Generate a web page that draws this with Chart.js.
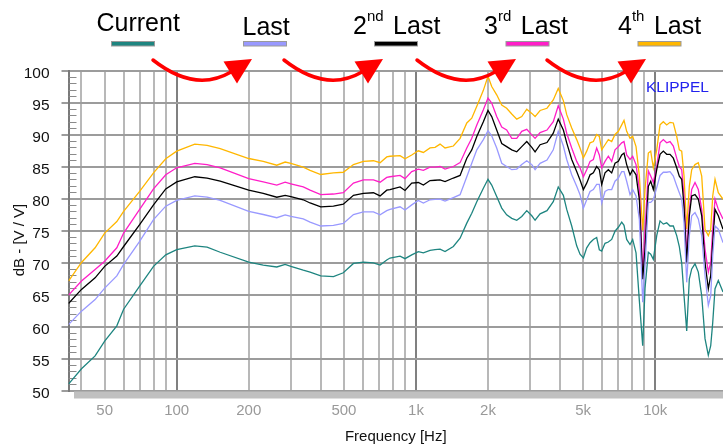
<!DOCTYPE html>
<html><head><meta charset="utf-8">
<script src="https://cdn.jsdelivr.net/npm/chart.js@4.4.1/dist/chart.umd.min.js"></script>
<style>html,body{margin:0;padding:0;background:#fff;overflow:hidden}canvas{display:block}</style>
</head><body>
<canvas id="c" width="723" height="446"></canvas>
<script>
// ---- data ----
const freqHz = [
  35.3, 40, 45.6, 50, 56.2, 60, 70, 80, 90, 100, 119, 134, 152, 200, 230, 262, 284, 300, 338, 361, 400, 452, 497, 548, 603, 664, 708, 755, 779, 858, 900,
  960, 1023, 1074, 1145, 1202, 1261, 1323, 1433, 1529, 1631, 1711, 1796, 1913, 2000, 2073, 2175, 2283, 2394, 2514, 2638, 2768, 2905, 3049, 3147, 3302, 3529, 3749, 3933,
  4131, 4267, 4477, 4697, 4850, 5009, 5172, 5341, 5513, 5692, 5840, 5974, 6169, 6369, 6578, 6792, 7014, 7243, 7406, 7598, 7847, 8050, 8314, 8585,
  8865, 9066, 9359, 9577, 9820, 10146, 10474, 10812, 11170, 11531, 11904, 12298, 12609, 12904, 13196, 13541, 13884, 14207, 14666, 15140, 15644, 16149, 16670, 17059, 17392, 17781, 18353, 19200
];
const current = [
  51.0, 53.4, 55.4, 57.7, 60.1, 62.7, 66.3, 69.4, 71.2, 72.0, 72.6, 72.4, 71.6, 70.05, 69.6, 69.3, 69.7, 69.4, 68.8, 68.5, 67.9, 67.8, 68.4, 69.85, 70.05, 69.95, 69.6, 70.4, 70.7, 71.0, 70.6,
  71.2, 71.7, 71.5, 71.9, 72.0, 72.1, 71.7, 72.5, 73.8, 76.15, 77.7, 79.5, 81.6, 83.0, 82.1, 80.3, 78.5, 77.45, 76.9, 76.6, 77.2, 78.1, 77.3, 76.6, 77.6, 78.1, 79.5, 81.8,
  80.5, 78.3, 75.7, 72.6, 71.3, 70.7, 72.3, 73.1, 73.6, 73.9, 72.0, 71.8, 73.0, 73.2, 73.6, 74.9, 75.5, 76.3, 75.8, 73.6, 72.8, 73.6, 71.5, 64.0,
  57.0, 66.0, 71.6, 71.3, 70.5, 74.2, 76.5, 76.0, 76.2, 75.7, 75.7, 74.2, 72.5, 69.9, 64.8, 59.3, 67.4, 69.0, 69.8, 68.5, 64.8, 58.1, 55.5, 57.0, 60.6, 65.9, 67.2, 65.4
];
const last = [
  60.3, 62.4, 64.2, 66.0, 67.9, 69.7, 73.3, 76.7, 78.8, 79.7, 80.4, 80.2, 79.7, 78.0, 77.5, 77.0, 77.45, 77.2, 76.8, 76.3, 75.7, 75.8, 76.1, 77.5, 77.9, 77.9, 77.45, 78.1, 78.3, 78.7, 78.2,
  79.0, 79.7, 79.3, 79.8, 79.85, 79.9, 79.6, 80.15, 80.6, 83.4, 85.5, 87.6, 89.2, 90.6, 89.8, 87.9, 85.5, 85.0, 84.5, 84.6, 85.3, 85.9, 85.3, 84.5, 85.5, 86.0, 87.6, 90.5,
  88.2, 86.1, 83.7, 81.9, 80.6, 78.5, 79.8, 81.1, 81.4, 82.2, 82.2, 79.3, 81.1, 81.4, 81.4, 82.7, 83.2, 84.2, 84.2, 82.7, 80.6, 81.4, 80.4, 76.7,
  63.8, 69.5, 79.4, 79.4, 79.8, 81.7, 83.6, 84.1, 84.1, 84.2, 83.5, 82.0, 80.9, 79.9, 76.2, 66.9, 74.2, 77.3, 77.8, 76.8, 74.2, 68.0, 63.3, 64.8, 71.1, 75.7, 75.2, 73.1
];
const last2 = [
  63.6, 65.8, 67.6, 69.4, 71.0, 72.5, 75.9, 79.0, 81.5, 82.6, 83.4, 83.2, 82.7, 81.3, 80.8, 80.2, 80.5, 80.3, 79.8, 79.3, 78.7, 78.8, 79.1, 80.5, 80.8, 80.9, 80.4, 81.3, 81.4, 81.8, 81.25,
  82.4, 82.5, 82.1, 82.8, 82.85, 82.9, 82.65, 83.2, 83.6, 86.3, 87.6, 89.7, 92.0, 93.75, 92.8, 90.7, 88.6, 88.1, 87.6, 87.3, 88.1, 88.9, 88.0, 87.3, 88.4, 88.75, 90.2, 92.4,
  90.7, 88.7, 86.1, 84.2, 82.9, 81.4, 82.4, 83.7, 84.0, 85.0, 84.5, 82.2, 84.0, 84.5, 84.0, 85.5, 85.8, 86.8, 87.1, 85.3, 83.7, 84.5, 83.7, 79.8,
  67.4, 72.1, 81.9, 82.7, 81.4, 84.5, 86.9, 87.4, 86.9, 86.9, 86.3, 84.8, 83.5, 83.0, 78.8, 70.0, 77.3, 80.4, 80.6, 79.9, 77.3, 70.0, 65.9, 68.0, 73.1, 78.3, 77.3, 75.2
];
const last3 = [
  64.9, 67.1, 68.9, 70.2, 72.3, 74.6, 78.3, 81.5, 83.7, 84.8, 85.5, 85.3, 84.8, 83.1, 82.6, 82.1, 82.55, 82.3, 81.8, 81.3, 80.6, 80.7, 80.9, 82.4, 82.9, 82.9, 82.55, 83.3, 83.4, 83.6, 83.1,
  84.2, 84.6, 84.4, 84.9, 84.9, 85.0, 84.6, 85.0, 85.6, 87.9, 89.4, 91.5, 93.85, 95.7, 94.9, 92.8, 91.15, 90.7, 89.4, 89.4, 90.5, 90.8, 89.95, 89.4, 90.3, 90.7, 92.0, 94.5,
  92.4, 90.2, 87.9, 85.8, 84.8, 83.4, 84.5, 85.8, 86.1, 87.9, 86.8, 84.8, 85.8, 86.6, 85.8, 87.6, 88.1, 88.7, 88.9, 86.8, 86.1, 86.6, 85.3, 81.4,
  68.0, 75.2, 84.3, 83.5, 82.5, 85.0, 88.7, 89.2, 88.7, 88.9, 88.2, 86.3, 85.0, 84.5, 80.4, 71.1, 78.3, 81.4, 82.5, 81.4, 78.3, 72.1, 68.5, 70.0, 75.2, 79.9, 78.3, 76.8
];
const last4 = [
  67.1, 70.0, 72.3, 74.6, 76.4, 78.0, 81.1, 84.0, 86.2, 87.4, 88.5, 88.3, 87.8, 86.25, 85.8, 85.2, 85.7, 85.5, 84.9, 84.4, 83.75, 84.0, 84.1, 85.3, 85.8, 85.9, 85.6, 86.5, 86.6, 86.7, 86.2,
  86.8, 87.45, 87.2, 87.9, 88.0, 88.5, 87.9, 88.2, 89.4, 91.8, 92.55, 94.4, 96.9, 99.1, 97.5, 96.2, 94.6, 94.1, 93.2, 92.4, 92.8, 93.95, 93.3, 92.8, 93.75, 94.1, 95.4, 97.2,
  95.3, 93.1, 91.0, 89.2, 87.9, 86.35, 87.4, 88.7, 88.9, 90.0, 89.7, 87.6, 88.4, 89.2, 88.9, 90.0, 90.5, 91.5, 92.2, 90.5, 89.4, 89.7, 88.1, 83.5,
  75.0, 81.4, 87.1, 87.4, 84.8, 87.6, 91.5, 92.0, 91.5, 91.9, 91.8, 89.7, 87.6, 87.4, 83.5, 75.2, 81.9, 84.5, 85.3, 85.6, 83.5, 75.2, 74.2, 75.2, 80.4, 83.0, 80.9, 79.9
];
const seriesNames = ['Current', 'Last', '2nd Last', '3rd Last', '4th Last'];
const seriesColors = ['#1e8580', '#9999ff', '#000000', '#ff1ec8', '#ffb700'];
const yTickValues = [50, 55, 60, 65, 70, 75, 80, 85, 90, 95, 100];
const xGridValues = [40, 50, 60, 70, 80, 90, 100, 200, 300, 400, 500, 600, 700, 800, 900,
  1000, 2000, 3000, 4000, 5000, 6000, 7000, 8000, 9000, 10000];
const xTickLabels = {50: '50', 100: '100', 200: '200', 500: '500', 1000: '1k', 2000: '2k', 5000: '5k', 10000: '10k'};
const legendParts = [
  {num: 'Current', sup: '', rest: ''},
  {num: 'Last', sup: '', rest: ''},
  {num: '2', sup: 'nd', rest: 'Last'},
  {num: '3', sup: 'rd', rest: 'Last'},
  {num: '4', sup: 'th', rest: 'Last'}
];

// ---- layout / style ----
const FONT = '"Liberation Sans", Arial, sans-serif';
const legendTextX = [96.5, 242.5, 353, 484, 618];
const legendTextY = [31, 35, 34, 34, 34];
const legendBarX = [111.5, 243.5, 374.5, 506, 638];
const arrowShift = [0, 131, 264, 394];

const decor = {
  id: 'decor',
  beforeDraw(chart) {
    const ctx = chart.ctx;
    ctx.save();
    ctx.fillStyle = '#fff';
    ctx.fillRect(0, 0, chart.width, chart.height);
    ctx.restore();
  },
  beforeDatasetsDraw(chart) {
    const ctx = chart.ctx, y = chart.scales.y, a = chart.chartArea;
    ctx.save();
    ctx.strokeStyle = '#8a8a8a';
    ctx.lineWidth = 1;
    for (let v = 51; v < 100; v++) {
      if (v % 5 === 0) continue;
      const py = Math.round(y.getPixelForValue(v)) + 0.5;
      ctx.beginPath();
      ctx.moveTo(a.left, py);
      ctx.lineTo(a.left + 8, py);
      ctx.stroke();
    }
    ctx.restore();
  },
  afterDraw(chart) {
    const ctx = chart.ctx, a = chart.chartArea;
    ctx.save();
    // grey band under the x axis
    ctx.fillStyle = '#c0c0c0';
    ctx.fillRect(74, a.bottom + 1, chart.width - 74, 7);

    // legend
    ctx.fillStyle = '#000';
    ctx.textBaseline = 'alphabetic';
    ctx.textAlign = 'left';
    legendParts.forEach((p, i) => {
      let x = legendTextX[i];
      const yb = legendTextY[i];
      ctx.font = '25px ' + FONT;
      ctx.fillText(p.num, x, yb);
      x += ctx.measureText(p.num).width;
      if (p.sup) {
        ctx.font = '15px ' + FONT;
        ctx.fillText(p.sup, x, yb - 13);
        x += ctx.measureText(p.sup).width + 9.5;
        ctx.font = '25px ' + FONT;
        ctx.fillText(p.rest, x, yb);
      }
      ctx.fillStyle = seriesColors[i];
      ctx.fillRect(legendBarX[i], 41.5, 43, 4.5);
      ctx.strokeStyle = '#9a9a9a';
      ctx.lineWidth = 1;
      ctx.strokeRect(legendBarX[i], 41.5, 43, 4.5);
      ctx.fillStyle = '#000';
    });

    // red arrows
    ctx.strokeStyle = '#ff0000';
    ctx.fillStyle = '#ff0000';
    ctx.lineWidth = 3.5;
    ctx.lineCap = 'round';
    arrowShift.forEach(dx => {
      ctx.beginPath();
      ctx.moveTo(153 + dx, 60);
      ctx.quadraticCurveTo(195 + dx, 93, 231 + dx, 72);
      ctx.stroke();
      ctx.beginPath();
      ctx.moveTo(223.5 + dx, 61.5);
      ctx.lineTo(252 + dx, 59);
      ctx.lineTo(237 + dx, 83.5);
      ctx.closePath();
      ctx.fill();
    });

    // KLIPPEL mark
    ctx.fillStyle = '#2222ee';
    ctx.font = '15.5px ' + FONT;
    ctx.fillText('KLIPPEL', 646, 91.5);

    // y axis title
    ctx.fillStyle = '#111';
    ctx.font = '15px ' + FONT;
    ctx.translate(19.5, 240);
    ctx.rotate(-Math.PI / 2);
    ctx.textAlign = 'center';
    ctx.textBaseline = 'middle';
    ctx.fillText('dB - [V / V]', 0, 0);
    ctx.restore();
  }
};

const datasets = [current, last, last2, last3, last4].map((arr, i) => ({
  label: seriesNames[i],
  data: freqHz.map((f, j) => ({x: f, y: arr[j]})),
  borderColor: seriesColors[i],
  backgroundColor: seriesColors[i],
  borderWidth: 1.3,
  pointRadius: 0,
  tension: 0,
  fill: false
}));

const majorX = v => v === 100 || v === 1000 || v === 10000;

new Chart(document.getElementById('c'), {
  type: 'line',
  data: {datasets},
  plugins: [decor],
  options: {
    responsive: false,
    animation: false,
    devicePixelRatio: 1,
    parsing: false,
    layout: {padding: {top: 70.5, left: 0, right: 0, bottom: 0}},
    plugins: {legend: {display: false}, tooltip: {enabled: false}},
    scales: {
      x: {
        type: 'logarithmic',
        min: 35.3,
        max: 19200,
        afterBuildTicks: s => { s.ticks = xGridValues.map(v => ({value: v})); },
        afterFit: s => { s.height = 55.5; },
        ticks: {
          autoSkip: false, maxRotation: 0, minRotation: 0, padding: 11,
          color: '#999999', font: {family: FONT, size: 15},
          callback: v => xTickLabels[v] || ''
        },
        grid: {
          drawTicks: false,
          lineWidth: 2,
          color: ctx => (ctx.tick && majorX(ctx.tick.value)) ? '#808080' : '#b8b8b8'
        },
        border: {display: false},
        title: {display: true, text: 'Frequency [Hz]', color: '#111', font: {family: FONT, size: 15}, padding: 0}
      },
      y: {
        min: 50,
        max: 100,
        afterBuildTicks: s => { s.ticks = yTickValues.map(v => ({value: v})); },
        afterFit: s => { s.width = 68.5; },
        ticks: {padding: 12, color: '#111', font: {family: FONT, size: 15.5}, labelOffset: 3.5, callback: v => String(v)},
        grid: {color: '#9c9c9c', lineWidth: 2, tickLength: 7},
        border: {display: true, color: '#7a7a7a', width: 2}
      }
    }
  }
});
</script>
</body></html>
